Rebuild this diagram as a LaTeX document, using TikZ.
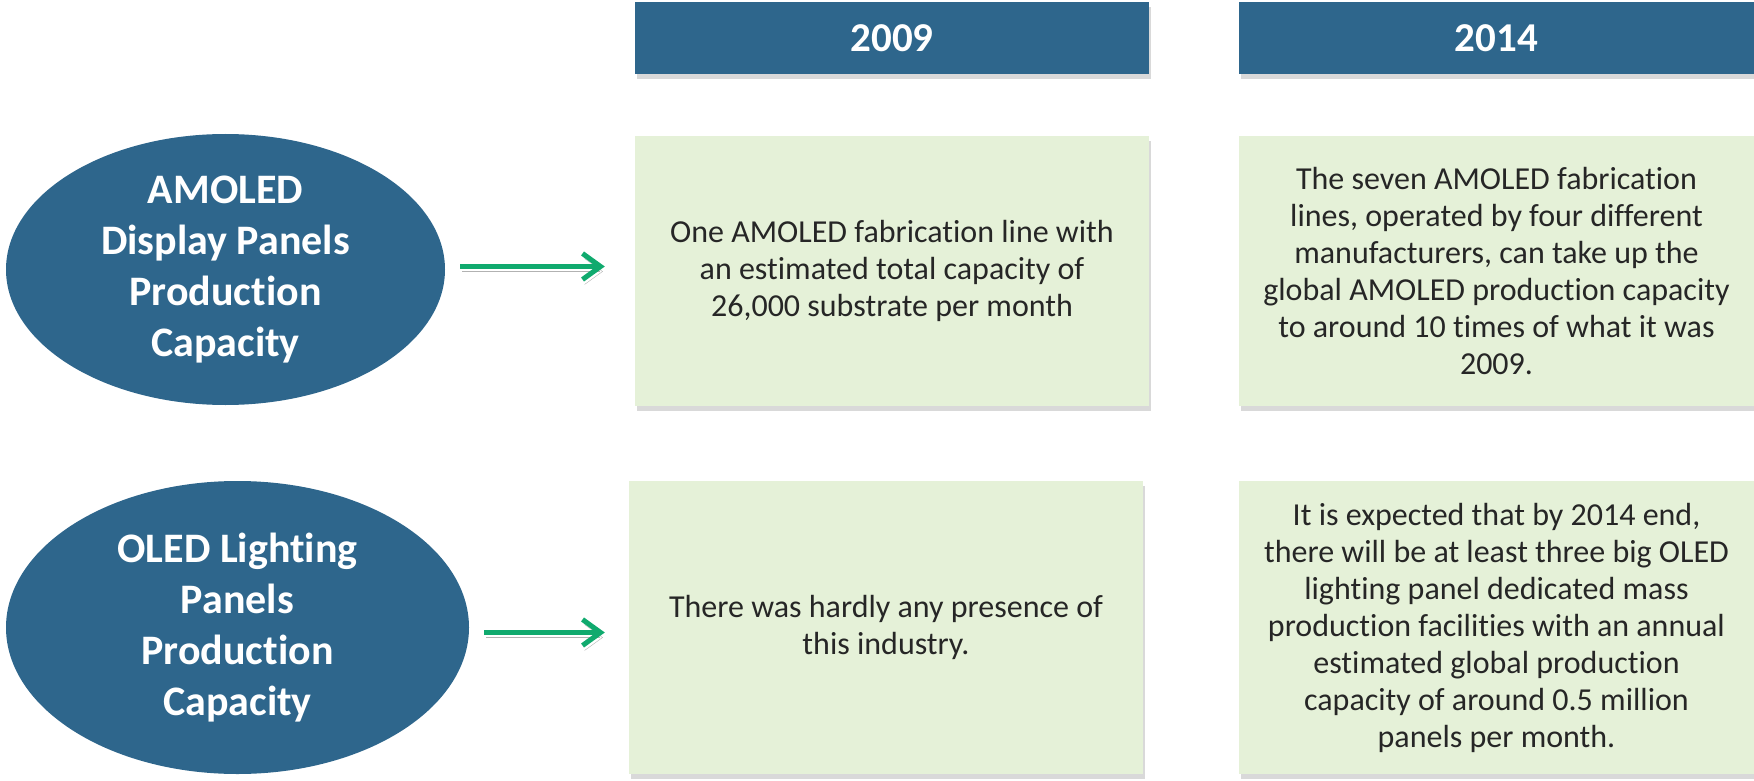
\documentclass[tikz,border=0pt]{standalone}
\usepackage{fontspec}
\setmainfont{Carlito}[Ligatures={NoCommon}]
\usepackage{xcolor}
\usetikzlibrary{arrows.meta,positioning,shapes.geometric,shadows}
\definecolor{capblue}{RGB}{46,102,140}
\definecolor{notegreen}{RGB}{229,241,216}
\definecolor{flowgreen}{RGB}{16,170,110}
\definecolor{notetext}{RGB}{38,38,38}

\begin{document}
\begin{tikzpicture}[x=1pt, y=-1pt,
    yearbox/.style={rectangle, fill=capblue, minimum width=514pt, minimum height=72pt, inner sep=0pt, text=white, font=\fontsize{41}{48}\selectfont\bfseries, drop shadow={shadow xshift=2pt, shadow yshift=-5pt, opacity=0.3}},
    notebox/.style={rectangle, fill=notegreen, minimum width=514pt, inner sep=0pt, align=center, text=notetext, font=\fontsize{32}{37}\selectfont, drop shadow={shadow xshift=2pt, shadow yshift=-5pt, opacity=0.3}},
    topic/.style={ellipse, fill=capblue, inner sep=0pt, align=center, text=white, font=\fontsize{42}{51}\selectfont\bfseries},
    flow/.style={flowgreen, line width=5pt, -{Straight Barb[length=18pt, width=26pt]}, shorten <=15pt, preaction={draw=black, opacity=0.3, transform canvas={xshift=2pt, yshift=-5pt}}}
]
\useasboundingbox (0,0) rectangle (1754,781);
\node[yearbox] (y09) at (892,38) {2009};
\node[yearbox, minimum width=515pt] (y14) at (1496.5,38) {2014};

\node[topic, minimum width=439pt, minimum height=271pt] (amoled) at (225.5,269.5) {AMOLED\\Display Panels\\Production\\Capacity};
\node[notebox, minimum height=270pt] (amoled09) at (892,271) {One AMOLED fabrication line with\\an estimated total capacity of\\26,000 substrate per month};
\node[notebox, minimum width=515pt, minimum height=270pt] (amoled14) at (1496.5,271) {The seven AMOLED fabrication\\lines, operated by four different\\manufacturers, can take up the\\global AMOLED production capacity\\to around 10 times of what it was\\2009.};

\node[topic, minimum width=463pt, minimum height=293pt] (oled) at (237.5,627.5) {OLED Lighting\\Panels\\Production\\Capacity};
\node[notebox, minimum height=293pt] (oled09) at (886,627.5) {There was hardly any presence of\\this industry.};
\node[notebox, minimum width=515pt, minimum height=293pt] (oled14) at (1496.5,627.5) {It is expected that by 2014 end,\\there will be at least three big OLED\\lighting panel dedicated mass\\production facilities with an annual\\estimated global production\\capacity of around 0.5 million\\panels per month.};

\draw[flow, shorten >=30pt] ([yshift=3pt]amoled.east) -- ([yshift=3pt]amoled.east -| amoled09.west);
\draw[flow, shorten >=24pt] ([yshift=-5pt]oled.east) -- ([yshift=-5pt]oled.east -| oled09.west);
\end{tikzpicture}
\end{document}
